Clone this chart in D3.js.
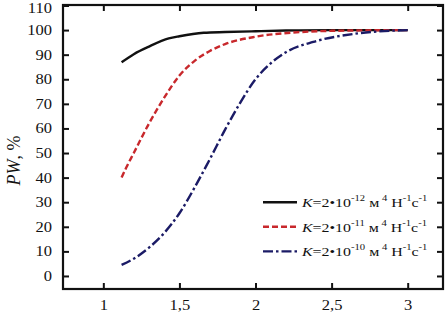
<!DOCTYPE html>
<html>
<head>
<meta charset="utf-8">
<script src="https://cdn.jsdelivr.net/npm/d3@7"></script>
<style>
  body { margin: 0; background: #fff; }
  text { font-family: "Liberation Serif", "Times New Roman", serif; fill: #111; }
</style>
</head>
<body>
<div id="chart"></div>
<script>
// data
var xTicks = [1, 1.5, 2, 2.5, 3];
var xTickLabels = ["1", "1,5", "2", "2,5", "3"];
var yTicks = [0, 10, 20, 30, 40, 50, 60, 70, 80, 90, 100, 110];

var xBlack = [1.12, 1.2, 1.3, 1.43, 1.5, 1.66, 1.8, 2.0, 2.2, 2.5, 3.0];
var yBlack = [86.9, 90.2, 93.3, 96.6, 97.5, 98.9, 99.2, 99.5, 99.8, 100, 100];

var xRed = [1.12, 1.15, 1.2, 1.3, 1.4, 1.5, 1.6, 1.7, 1.8, 2.0, 2.25, 2.5, 3.0];
var yRed = [40, 44, 50, 62, 72.5, 81.5, 87.5, 91.5, 94.3, 97.3, 99, 99.7, 100];

var xBlue = [1.12, 1.22, 1.3, 1.4, 1.5, 1.6, 1.7, 1.8, 1.9, 2.0, 2.1, 2.2, 2.38, 2.64, 3.0];
var yBlue = [4.5, 7.8, 11.5, 17.5, 25.5, 36, 47.5, 59.5, 70.5, 80, 86.5, 91, 95.2, 98.4, 100];

var legendExp = ["-12", "-11", "-10"];

var W = 447, H = 314;
var margin = {left: 63, top: 5, right: 4, bottom: 25};
var w = W - margin.left - margin.right;
var h = H - margin.top - margin.bottom;
var TICK = 6;
var STRETCH = 1.18; // the source font looks horizontally stretched

var svg = d3.select("#chart").append("svg")
    .attr("width", W)
    .attr("height", H);

var x = d3.scaleLinear().domain([0.735, 3.232]).range([0, w]);
var y = d3.scaleLinear().domain([-5.3, 110.2]).range([h, 0]);

var g = svg.append("g").attr("transform", "translate(" + margin.left + "," + margin.top + ")");

// series
var series = [
  {xs: xBlack, ys: yBlack, color: "#111111", dash: null},
  {xs: xRed, ys: yRed, color: "#c8282c", dash: "6,3"},
  {xs: xBlue, ys: yBlue, color: "#1b1b66", dash: "10,3,2.5,3"}
];

var line = d3.line()
    .x(function(d) { return x(d[0]); })
    .y(function(d) { return y(d[1]); })
    .curve(d3.curveMonotoneX);

series.forEach(function(s) {
  var pts = s.xs.map(function(v, i) { return [v, s.ys[i]]; });
  g.append("path")
    .attr("d", line(pts))
    .attr("fill", "none")
    .attr("stroke", s.color)
    .attr("stroke-width", 2.4)
    .attr("stroke-dasharray", s.dash);
});

// axes, ticks pointing inward on all sides
var bottomAxis = d3.axisBottom(x).tickValues(xTicks).tickSize(-TICK).tickPadding(11)
    .tickFormat(function(d, i) { return xTickLabels[i]; });
var topAxis = d3.axisTop(x).tickValues(xTicks).tickSize(-TICK).tickFormat("");
var leftAxis = d3.axisLeft(y).tickValues(yTicks).tickSize(-TICK).tickPadding(5);
var rightAxis = d3.axisRight(y).tickValues(yTicks).tickSize(-TICK).tickFormat("");

var gb = g.append("g").attr("transform", "translate(0," + h + ")").call(bottomAxis);
g.append("g").call(topAxis);
var gl = g.append("g").call(leftAxis);
g.append("g").attr("transform", "translate(" + w + ",0)").call(rightAxis);

g.selectAll(".domain").remove();
g.selectAll(".tick line").attr("stroke", "#111").attr("stroke-width", 2);

gb.selectAll("text")
    .attr("font-size", 14)
    .attr("font-family", "Liberation Serif")
    .attr("transform", "scale(" + STRETCH + ",1)");
gl.selectAll("text")
    .attr("font-size", 14)
    .attr("font-family", "Liberation Serif")
    .attr("x", -11 / STRETCH)
    .attr("dy", function(d) { return d === 110 ? "0.5em" : "0.32em"; })
    .attr("transform", "scale(" + STRETCH + ",1)");

// frame
g.append("rect")
    .attr("x", 0).attr("y", 0)
    .attr("width", w).attr("height", h)
    .attr("fill", "none")
    .attr("stroke", "#111")
    .attr("stroke-width", 2.2);

// y axis title
var yt = svg.append("text")
    .attr("transform", "translate(20," + (margin.top + y(47)) + ") rotate(-90)")
    .attr("text-anchor", "middle")
    .attr("font-size", 18);
yt.append("tspan").attr("font-style", "italic").text("PW");
yt.append("tspan").text(", %");

// legend
var legendY = [30, 20, 10];
series.forEach(function(s, i) {
  var ly = y(legendY[i]);
  g.append("line")
    .attr("x1", 200).attr("x2", 234)
    .attr("y1", ly).attr("y2", ly)
    .attr("stroke", s.color)
    .attr("stroke-width", 2.4)
    .attr("stroke-dasharray", s.dash);
  var t = g.append("text")
    .attr("x", 239 / STRETCH)
    .attr("y", ly + 5)
    .attr("font-size", 13.5)
    .attr("transform", "scale(" + STRETCH + ",1)");
  t.append("tspan").attr("font-style", "italic").text("K");
  t.append("tspan").text("=2\u202210");
  t.append("tspan").attr("dy", -6).attr("font-size", 9).text(legendExp[i]);
  t.append("tspan").attr("dy", 6).text(" м");
  t.append("tspan").attr("dy", -6).attr("font-size", 9).text(" 4");
  t.append("tspan").attr("dy", 6).text(" Н");
  t.append("tspan").attr("dy", -6).attr("font-size", 9).text("-1");
  t.append("tspan").attr("dy", 6).text("с");
  t.append("tspan").attr("dy", -6).attr("font-size", 9).text("-1");
});
</script>
</body>
</html>
